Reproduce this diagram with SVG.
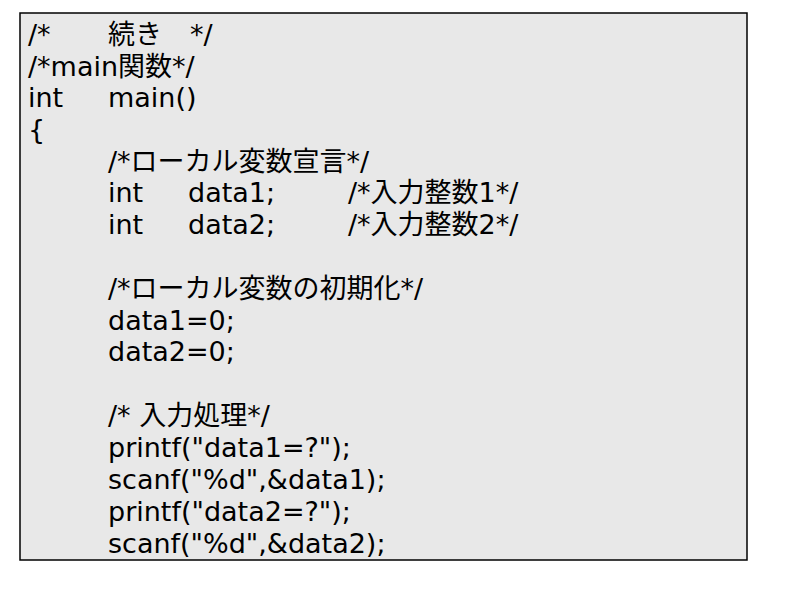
<svg xmlns="http://www.w3.org/2000/svg" width="800" height="600" viewBox="0 0 800 600">
<style>
text{font-family:"DejaVu Sans","Noto Sans CJK JP",sans-serif;font-size:27px;fill:#000}
</style>
<rect x="0" y="0" width="800" height="600" fill="#fff"/>
<g id="slide">
<rect x="20" y="13" width="727" height="547" fill="#e8e8e8" stroke="#000" stroke-width="1.5"/>
<text x="28" y="44">/*</text><text x="108" y="44">続き</text><text x="190" y="44">*/</text>
<text x="28" y="76">/*main関数*/</text>
<text x="28" y="107">int</text><text x="108" y="107">main()</text>
<text x="28" y="139">{</text>
<text x="108" y="171">/*ローカル変数宣言*/</text>
<text x="108" y="202">int</text><text x="188" y="202">data1;</text><text x="348" y="202">/*入力整数1*/</text>
<text x="108" y="234">int</text><text x="188" y="234">data2;</text><text x="348" y="234">/*入力整数2*/</text>
<text x="108" y="298">/*ローカル変数の初期化*/</text>
<text x="108" y="330">data1=0;</text>
<text x="108" y="361">data2=0;</text>
<text x="108" y="425">/* 入力処理*/</text>
<text x="108" y="457">printf("data1=?");</text>
<text x="108" y="489">scanf("%d",&amp;data1);</text>
<text x="108" y="521">printf("data2=?");</text>
<text x="108" y="553">scanf("%d",&amp;data2);</text>
</g>
</svg>
